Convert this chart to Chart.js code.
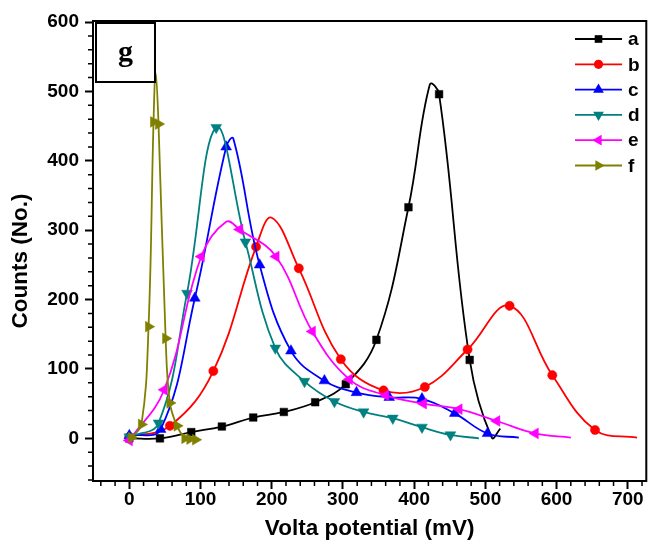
<!DOCTYPE html>
<html>
<head>
<meta charset="utf-8">
<title>Volta potential</title>
<script src="https://cdn.jsdelivr.net/npm/chart.js"></script>
<style>
  html, body { margin: 0; padding: 0; background: #fff; }
  canvas { display: block; }
</style>
</head>
<body>
<canvas id="grafico" width="653" height="551"></canvas>
<script>
const ctx = document.getElementById("grafico");

// curve values (mV, counts)
const seriesNames = ["a", "b", "c", "d", "e", "f"];
const aX = [0, 43, 87, 130, 174, 217, 261, 304, 347, 392, 422, 435, 478, 509, 521];
const aY = [0, 0, 9, 17, 30, 38, 52, 78, 142, 333, 510, 496, 113, 1, 14];
const bX = [0, 57, 118, 178, 200, 238, 297, 357, 415, 475, 534, 594, 654, 713];
const bY = [2, 18, 97, 276, 318, 245, 114, 69, 74, 128, 191, 91, 12, 1];
const cX = [0, 44, 92, 136, 146, 183, 227, 274, 319, 365, 411, 457, 503, 547];
const cY = [4, 13, 202, 420, 432, 250, 126, 83, 66, 59, 57, 36, 7, 1];
const dX = [0, 41, 81, 122, 163, 205, 246, 288, 329, 370, 411, 451, 491];
const dY = [2, 22, 209, 448, 283, 130, 82, 53, 38, 29, 16, 5, 0];
const eX = [0, 49, 101, 136, 155, 206, 257, 309, 360, 413, 463, 516, 570, 620];
const eY = [-3, 70, 262, 312, 301, 262, 154, 85, 62, 50, 42, 25, 7, 1];
const fX = [3, 17, 27, 34, 37, 41, 51, 57, 67, 78, 85, 93];
const fY = [1, 20, 161, 456, 526, 453, 144, 51, 18, 0, -1, -2];

const xTicks = [0, 100, 200, 300, 400, 500, 600, 700];
const yTicks = [0, 100, 200, 300, 400, 500, 600];
const panelLabel = "g";
const yTitle = "Counts (No.)";

const FONT = "'Liberation Sans', Arial, sans-serif";

// line colour, marker shape; "bare" = points the line passes through without a symbol
const estilos = [
  { color: "#000000", shape: "rect", rotation: 0, radius: 5.4, bare: [10, 13, 14] },
  { color: "#ff0000", shape: "circle", rotation: 0, radius: 4.6, bare: [4, 13] },
  { color: "#0000ff", shape: "triangle", rotation: 0, radius: 6.2, bare: [4, 13] },
  { color: "#008080", shape: "triangle", rotation: 180, radius: 6.2, bare: [12] },
  { color: "#ff00ff", shape: "triangle", rotation: 270, radius: 6.2, bare: [3, 13] },
  { color: "#808000", shape: "triangle", rotation: 90, radius: 6.2, bare: [4] }
];

const series = [[aX, aY], [bX, bY], [cX, cY], [dX, dY], [eX, eY], [fX, fY]];

const datasets = series.map(([xs, ys], i) => {
  const st = estilos[i];
  return {
    label: seriesNames[i],
    data: xs.map((x, k) => ({ x, y: ys[k] })),
    borderColor: st.color,
    backgroundColor: st.color,
    borderWidth: 1.8,
    tension: 0.4,
    pointStyle: st.shape,
    pointRotation: st.rotation,
    pointRadius: c => (st.bare.includes(c.dataIndex) ? 0 : st.radius),
    pointBorderWidth: 0.5,
    pointBorderColor: st.color,
    pointBackgroundColor: st.color,
    order: series.length - i
  };
});

function drawMarker(c, st, x, y) {
  const r = st.radius;
  c.save();
  c.translate(x, y);
  c.rotate(st.rotation * Math.PI / 180);
  c.fillStyle = st.color;
  c.beginPath();
  if (st.shape === "rect") {
    const s = r * Math.SQRT1_2;
    c.rect(-s, -s, 2 * s, 2 * s);
  } else if (st.shape === "circle") {
    c.arc(0, 0, r, 0, Math.PI * 2);
  } else {
    for (let k = 0; k < 3; k += 1) {
      const a = k * 2 * Math.PI / 3;
      const px = Math.sin(a) * r;
      const py = -Math.cos(a) * r;
      if (k === 0) c.moveTo(px, py);
      else c.lineTo(px, py);
    }
    c.closePath();
  }
  c.fill();
  c.restore();
}

const molduraPlugin = {
  id: "moldura",
  afterDraw(chart) {
    const c = chart.ctx;
    const { left, right, top, bottom } = chart.chartArea;
    const sx = chart.scales.x;
    const sy = chart.scales.y;
    c.save();

    // top and right sides of the frame
    c.strokeStyle = "#000";
    c.lineWidth = 2;
    c.beginPath();
    c.moveTo(left - 1, top);
    c.lineTo(right, top);
    c.lineTo(right, bottom + 1);
    c.stroke();

    // minor ticks every 20
    c.lineWidth = 1.5;
    c.beginPath();
    for (let v = -40; v <= 720; v += 20) {
      if (v % 100 === 0) continue;
      const px = sx.getPixelForValue(v);
      c.moveTo(px, bottom);
      c.lineTo(px, bottom + 5);
    }
    for (let v = -60; v <= 600; v += 20) {
      if (v % 100 === 0) continue;
      const py = sy.getPixelForValue(v);
      c.moveTo(left, py);
      c.lineTo(left - 5, py);
    }
    c.stroke();

    // y axis title, sits a little below the middle of the axis
    c.save();
    c.translate(20.5, 261);
    c.rotate(-Math.PI / 2);
    c.fillStyle = "#000";
    c.font = "bold 22.5px " + FONT;
    c.textAlign = "center";
    c.textBaseline = "middle";
    c.fillText(yTitle, 0, 0);
    c.restore();

    // panel letter box
    c.fillStyle = "#fff";
    c.fillRect(96, 23, 59, 59);
    c.lineWidth = 2;
    c.strokeRect(96, 23, 59, 59);
    c.fillStyle = "#000";
    c.font = "bold 30px 'Liberation Serif', 'Times New Roman', serif";
    c.textAlign = "center";
    c.textBaseline = "alphabetic";
    c.fillText(panelLabel, 125.5, 60.5);

    // legend: line + symbol + name
    c.font = "bold 19px " + FONT;
    c.textAlign = "left";
    c.textBaseline = "middle";
    chart.data.datasets.forEach((ds, i) => {
      const st = estilos[i];
      const y = 39 + i * 25.3;
      c.strokeStyle = st.color;
      c.lineWidth = 1.8;
      c.beginPath();
      c.moveTo(575, y);
      c.lineTo(622, y);
      c.stroke();
      drawMarker(c, st, 598.5, y);
      c.fillStyle = "#000";
      c.fillText(ds.label, 628, y + 1);
    });

    c.restore();
  }
};

const grafico = new Chart(ctx, {
  type: "line",
  data: { datasets },
  plugins: [molduraPlugin],
  options: {
    responsive: false,
    animation: false,
    events: [],
    layout: { padding: { top: 21, right: 5, left: 0, bottom: 0 } },
    plugins: { legend: { display: false }, tooltip: { enabled: false } },
    scales: {
      x: {
        type: "linear",
        min: -51,
        max: 726,
        afterBuildTicks: scale => { scale.ticks = xTicks.map(v => ({ value: v })); },
        afterFit: scale => { scale.height = 70; },
        ticks: {
          color: "#000",
          font: { family: FONT, size: 19, weight: "bold" },
          padding: -1,
          maxRotation: 0,
          autoSkip: false
        },
        grid: { drawOnChartArea: false, drawTicks: true, tickLength: 8, tickWidth: 2, tickColor: "#000" },
        border: { display: true, color: "#000", width: 2 },
        title: {
          display: true,
          text: "Volta potential (mV)",
          color: "#000",
          font: { family: FONT, size: 22.5, weight: "bold" },
          padding: { top: 0, bottom: 9 }
        }
      },
      y: {
        type: "linear",
        min: -61.5,
        max: 601.5,
        afterBuildTicks: scale => { scale.ticks = yTicks.map(v => ({ value: v })); },
        afterFit: scale => { scale.width = 93; },
        ticks: {
          color: "#000",
          font: { family: FONT, size: 19, weight: "bold" },
          padding: 6,
          autoSkip: false
        },
        grid: { drawOnChartArea: false, drawTicks: true, tickLength: 8, tickWidth: 2, tickColor: "#000" },
        border: { display: true, color: "#000", width: 2 }
      }
    }
  }
});
</script>
</body>
</html>
